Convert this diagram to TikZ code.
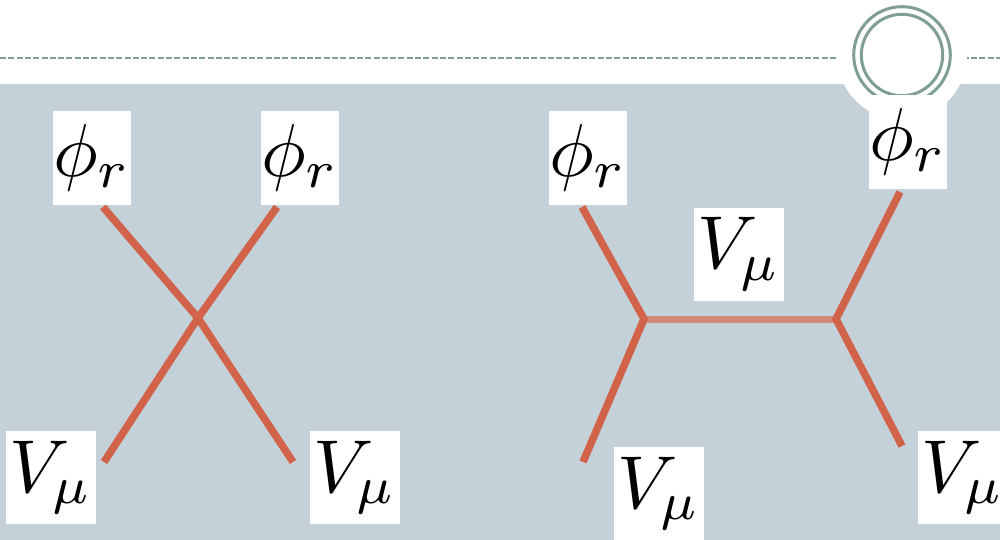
\documentclass[tikz,border=0pt]{standalone}
\usepackage{graphicx}
\definecolor{bggray}{RGB}{197,209,216}
\definecolor{ringcol}{RGB}{127,157,153}
\definecolor{linecol}{RGB}{209,99,74}
\definecolor{proplcol}{RGB}{212,136,122}
\newcommand{\biglab}[1]{\scalebox{7.5}{$#1$}}
\tikzset{
  lab/.style={fill=white, inner sep=0pt},
  phibox/.style={lab, minimum width=76pt, minimum height=94pt},
  vbox/.style={lab, minimum width=90pt, minimum height=93pt},
  leg/.style={draw=linecol, line width=7.5pt, line cap=butt},
  prop/.style={draw=proplcol, line width=7pt, line cap=butt},
  ring/.style={draw=ringcol, line width=3pt}
}
\begin{document}
\begin{tikzpicture}[x=1pt,y=-1pt]
\useasboundingbox (0,0) rectangle (1000,540);
\fill[white] (0,0) rectangle (1000,540);
\fill[bggray] (0,84) rectangle (1000,540);
\draw[ringcol, line width=2.5pt, dash pattern=on 6pt off 2.3pt] (0,58) -- (1000,58);
\fill[white] (902,55) circle (65pt);
\draw[ring] (902,55) circle (48.3pt);
\draw[ring] (902,55) circle (40.7pt);

% left diagram
\coordinate (x) at (198,318);
\coordinate (a1) at (103,207);
\coordinate (a2) at (277,207);
\coordinate (a3) at (104,462);
\coordinate (a4) at (293,462);
\draw[leg] (a1) -- (x);
\draw[leg] (a2) -- (x);
\draw[leg] (a3) -- (x);
\draw[leg] (a4) -- (x);

% right diagram
\coordinate (u) at (644,319);
\coordinate (w) at (836,319);
\coordinate (b1) at (582,207);
\coordinate (b2) at (900,192);
\coordinate (b3) at (583,462);
\coordinate (b4) at (902,446);
\draw[prop] (u) -- (w);
\draw[leg] (b1) -- (u) -- (b3);
\draw[leg] (b2) -- (w) -- (b4);

% labels
\node[phibox] (p1) at (92,158) {\biglab{\phi_r}};
\node[phibox] (p2) at (300,158) {\biglab{\phi_r}};
\node[vbox] (v1) at (51,477.5) {\biglab{V_\mu}};
\node[vbox] (v2) at (355,477.5) {\biglab{V_\mu}};
\node[phibox] (p3) at (588,158) {\biglab{\phi_r}};
\node[phibox] (p4) at (908,142) {\biglab{\phi_r}};
\node[vbox] (vm) at (739,254) {\biglab{V_\mu}};
\node[vbox] (v3) at (659,493.5) {\biglab{V_\mu}};
\node[vbox] (v4) at (963,477.5) {\biglab{V_\mu}};
\end{tikzpicture}
\end{document}
